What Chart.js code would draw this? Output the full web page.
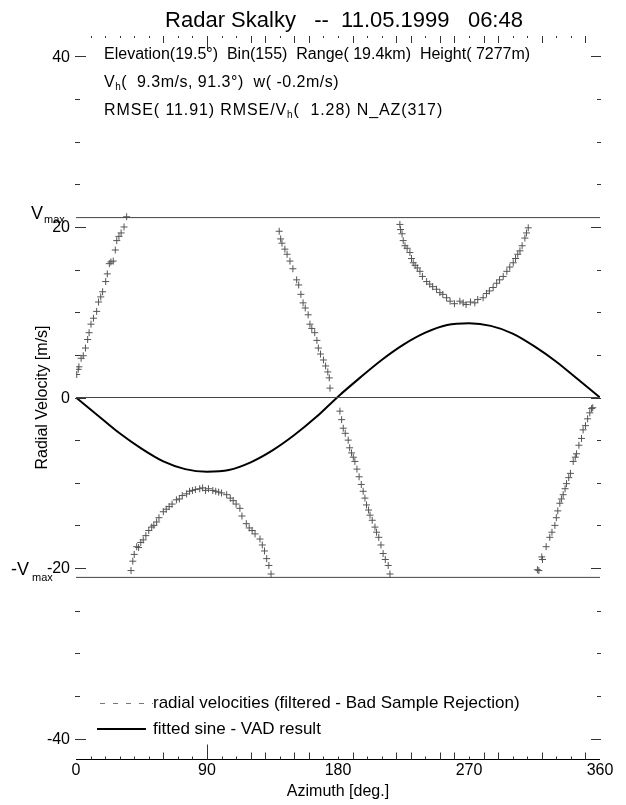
<!DOCTYPE html>
<html>
<head>
<meta charset="utf-8">
<script src="https://cdn.jsdelivr.net/npm/chart.js@4.4.1/dist/chart.umd.min.js"></script>
<style>
  html, body { margin: 0; padding: 0; background: #fff; }
  #wrap { width: 626px; height: 805px; }
</style>
</head>
<body>
<div id="wrap"><canvas id="vad" width="626" height="805"></canvas></div>
<script>
// radial velocities (azimuth deg / m/s), one line per folded branch
const radialAz = [
  0.5, 1.5, 2, 3.5, 5, 6.5, 8, 9, 10.3, 12, 14.2, 15.5, 17, 18.3, 20.4, 21.5, 22.9, 24, 25.6, 27, 28, 29.5, 31, 33, 34.8,
  37.8, 39, 40, 41.7, 43, 44.5, 46.2, 48, 50, 52, 53.5, 55.4, 57, 60, 62, 64, 66, 69, 71, 73, 76, 78, 80, 82, 85, 87, 89, 91, 94, 96, 98, 100, 103.5, 106, 108, 110, 112.6, 114, 117, 119, 121, 123, 126.4, 128, 129.5, 131, 132.5, 134,
  139.6, 140.6, 141.5, 143.5, 145, 147, 149, 151.6, 153, 154.5, 156, 157.5, 159.5, 160.7, 162, 164, 165.5, 166.5, 168, 170, 171.5, 173, 174, 174.5,
  181.3, 182.5, 183.6, 185, 187, 188, 189.3, 190.5, 191.6, 193, 194.5, 196, 197.3, 198.5, 199.6, 201, 202, 203.5, 205.4, 206.5, 208, 209.5, 211, 212.5, 214.5, 215.7,
  222.5, 223, 224, 224.8, 226, 227.5, 229.4, 230.5, 231.7, 233, 234.5, 236.3, 238, 240.9, 243, 245, 247.7, 250, 252, 254.6, 257, 260, 263.7, 266, 268, 271, 274, 276, 279.7, 282, 284, 286.6, 289, 291, 293.5, 296, 298, 300.4, 302, 303.5, 305, 306.5, 308.4, 309.5, 310.7,
  317, 318, 320, 320.5, 323, 325.5, 327, 329, 330, 331, 332.4, 333.5, 334.7, 336, 337, 338.5, 339.7, 341.6, 343, 343.9, 345.5, 347.3, 348.4, 350, 351.5, 353, 354.2, 355
];
const radialVel = [
  2.7, 3.3, 3.6, 4.6, 4.9, 5.8, 6.8, 7.6, 8.6, 9.3, 10.1, 11.2, 11.8, 12.4, 13.6, 14.5, 15.7, 15.9, 16.0, 17.3, 18.4, 18.9, 19.3, 20, 21.2,
  -20.3, -19.2, -18.4, -17.5, -17.6, -17, -16.7, -16.2, -15.6, -15.2, -15, -14.6, -14.1, -13.4, -13.1, -12.8, -12.5, -12, -11.9, -11.5, -11.3, -11, -10.9, -10.8, -10.7, -10.6, -10.9, -10.7, -10.9, -11, -11.1, -11.2, -11.4, -11.8, -12.1, -12.5, -13, -13.9, -14.8, -15.3, -15.6, -16, -16.6, -17.3, -18, -18.9, -19.7, -20.7,
  19.5, 18.6, 18.1, 17.4, 16.8, 16, 15.1, 13.8, 13.2, 12.1, 11.1, 10.5, 9.7, 8.6, 8.1, 7.6, 6.7, 5.8, 5.1, 4.4, 3.7, 3, 2.3, 1.1,
  -1.6, -2.6, -3.6, -4.2, -5, -5.9, -6.5, -7, -7.5, -8.4, -9.3, -10.2, -11, -11.8, -12.6, -13.2, -13.8, -14.4, -15.2, -15.8, -16.4, -17.3, -18.3, -19, -19.7, -20.7,
  20.3, 19.7, 19.2, 18.4, 17.8, 17.5, 17, 16.3, 15.8, 15.5, 15.2, 14.8, 14.2, 13.6, 13.3, 13, 12.7, 12.3, 12.1, 11.7, 11.3, 11, 11.3, 11.1, 10.9, 11.2, 11.1, 11.5, 11.7, 12.2, 12.5, 12.9, 13.4, 13.8, 14.2, 14.8, 15.3, 15.8, 16.3, 16.8, 17.2, 17.8, 18.7, 19.3, 19.9,
  -20.2, -20.3, -18.7, -19, -17.5, -16.4, -15.8, -15, -14.1, -13.3, -12.4, -11.9, -11.4, -10.7, -10.1, -9.4, -8.9, -7.5, -7, -6.6, -5.6, -4.8, -3.8, -3.3, -2.5, -1.8, -1.3, -1.2
];

// fitted sine (VAD result), read every 15 deg
const sineAz  = [0, 15, 30, 45, 60, 75, 90, 105, 120, 135, 150, 165, 180, 195, 210, 225, 240, 255, 270, 285, 300, 315, 330, 345, 360];
const sineVel = [0, -2.1, -4.2, -6.0, -7.5, -8.4, -8.7, -8.5, -7.6, -6.2, -4.4, -2.3, 0.1, 2.3, 4.4, 6.2, 7.6, 8.5, 8.7, 8.4, 7.5, 6.0, 4.2, 2.1, 0];

const vMax = 21.1;
const xTickLabels = [0, 90, 180, 270, 360];
const yTickLabels = [40, 20, 0, -20, -40];
const markedAz = [60, 120, 130, 150, 160, 190, 220, 230, 250, 260, 280, 290, 320, 350];

const titleText = 'Radar Skalky   --  11.05.1999   06:48';
const FONT = '"Liberation Sans", Arial, Helvetica, sans-serif';

const toXY = (xs, ys) => xs.map((x, i) => ({ x: x, y: ys[i] }));

// draws a row of text pieces, some of them as subscripts
function drawPieces(ctx, x, y, pieces, size, spacing) {
    ctx.letterSpacing = (spacing || 0) + 'px';
    pieces.forEach(p => {
        if (p.sub) {
            ctx.font = Math.round(size * 0.62) + 'px ' + FONT;
            ctx.fillText(p.t, x, y + size * 0.25);
        } else {
            ctx.font = size + 'px ' + FONT;
            ctx.fillText(p.t, x, y);
        }
        x += ctx.measureText(p.t).width;
    });
    ctx.letterSpacing = '0px';
}

const framePlugin = {
    id: 'frame',
    afterDraw(chart) {
        const ctx = chart.ctx;
        const xs = chart.scales.x, ys = chart.scales.y;
        const a = chart.chartArea;
        ctx.save();
        ctx.fillStyle = '#000';
        ctx.strokeStyle = '#000';
        ctx.lineWidth = 1;

        // title
        ctx.font = '22px ' + FONT;
        ctx.textAlign = 'center';
        ctx.textBaseline = 'middle';
        ctx.fillText(titleText, 344, 21);

        // bottom axis line + azimuth ticks top and bottom
        const yb = Math.round(a.bottom) + 0.5;
        ctx.beginPath();
        ctx.moveTo(a.left, yb);
        ctx.lineTo(a.right, yb);
        ctx.stroke();
        ctx.strokeStyle = '#333';
        for (let az = 10; az < 360; az += 10) {
            const px = Math.round(xs.getPixelForValue(az)) + 0.5;
            let len = 3;
            if (az === 90) len = 15;
            else if (markedAz.includes(az)) len = 7;
            ctx.beginPath();
            ctx.moveTo(px, yb);
            ctx.lineTo(px, yb - len);
            ctx.moveTo(px, a.top);
            ctx.lineTo(px, a.top + (len === 3 ? 2 : len));
            ctx.stroke();
        }

        // velocity ticks on both sides
        for (let v = -40; v <= 40; v += 5) {
            const py = Math.round(ys.getPixelForValue(v)) + 0.5;
            const len = v % 20 === 0 ? 11 : 5;
            ctx.beginPath();
            ctx.moveTo(a.left - 1, py);
            ctx.lineTo(a.left - 1 + len, py);
            ctx.moveTo(a.right + 1, py);
            ctx.lineTo(a.right + 1 - (len === 11 ? 10 : 4), py);
            ctx.stroke();
        }

        // tick labels
        ctx.fillStyle = '#000';
        ctx.font = '16px ' + FONT;
        ctx.textAlign = 'center';
        ctx.textBaseline = 'middle';
        xTickLabels.forEach(t => ctx.fillText(String(t), xs.getPixelForValue(t), a.bottom + 12));
        ctx.fillText('Azimuth [deg.]', (a.left + a.right) / 2, a.bottom + 33);

        ctx.textAlign = 'right';
        yTickLabels.forEach(t => ctx.fillText(String(t), 70, ys.getPixelForValue(t) + 1));

        // Vmax markers
        ctx.textAlign = 'left';
        ctx.textBaseline = 'alphabetic';
        const yVp = ys.getPixelForValue(vMax);
        ctx.font = '18px ' + FONT;
        ctx.fillText('V', 31, yVp + 1);
        ctx.font = '11px ' + FONT;
        ctx.fillText('max', 44, yVp + 5);
        const yVn = ys.getPixelForValue(-20);
        ctx.font = '18px ' + FONT;
        ctx.fillText('-V', 11, yVn + 7);
        ctx.font = '11px ' + FONT;
        ctx.fillText('max', 32, yVn + 13);

        // y title
        ctx.save();
        ctx.translate(43, (a.top + a.bottom) / 2);
        ctx.rotate(-Math.PI / 2);
        ctx.font = '16px ' + FONT;
        ctx.textAlign = 'center';
        ctx.textBaseline = 'middle';
        ctx.fillText('Radial Velocity [m/s]', 0, 0);
        ctx.restore();

        // annotation block
        ctx.textAlign = 'left';
        ctx.textBaseline = 'middle';
        drawPieces(ctx, 104, 55, [{ t: 'Elevation(19.5°)  Bin(155)  Range( 19.4km)  Height( 7277m)' }], 16, 0);
        drawPieces(ctx, 104, 83, [{ t: 'V' }, { t: 'h', sub: true }, { t: '(  9.3m/s, 91.3°)  w( -0.2m/s)' }], 16, 0.5);
        drawPieces(ctx, 104, 111, [{ t: 'RMSE( 11.91) RMSE/V' }, { t: 'h', sub: true }, { t: '(  1.28) N_AZ(317)' }], 16, 0.9);

        // legend
        ctx.strokeStyle = '#777';
        ctx.setLineDash([5, 8]);
        ctx.beginPath();
        ctx.moveTo(100, 703.5);
        ctx.lineTo(153, 703.5);
        ctx.stroke();
        ctx.setLineDash([]);
        ctx.strokeStyle = '#000';
        ctx.lineWidth = 2;
        ctx.beginPath();
        ctx.moveTo(97, 729);
        ctx.lineTo(146, 729);
        ctx.stroke();
        ctx.font = '17px ' + FONT;
        ctx.fillText('radial velocities (filtered - Bad Sample Rejection)', 153, 703);
        ctx.fillText('fitted sine - VAD result', 153, 729);

        ctx.restore();
    }
};

new Chart(document.getElementById('vad'), {
    type: 'scatter',
    data: {
        datasets: [
            {
                label: 'Vmax',
                data: toXY([0, 360], [vMax, vMax]),
                showLine: true, borderColor: '#444', borderWidth: 1, pointRadius: 0
            },
            {
                label: '-Vmax',
                data: toXY([0, 360], [-vMax, -vMax]),
                showLine: true, borderColor: '#444', borderWidth: 1, pointRadius: 0
            },
            {
                label: 'zero',
                data: toXY([0, 360], [0, 0]),
                showLine: true, borderColor: '#444', borderWidth: 1, pointRadius: 0
            },
            {
                label: 'radial velocities (filtered - Bad Sample Rejection)',
                data: toXY(radialAz, radialVel),
                pointStyle: 'cross',
                pointRadius: 3.5,
                borderColor: '#555',
                borderWidth: 1
            },
            {
                label: 'fitted sine - VAD result',
                data: toXY(sineAz, sineVel),
                showLine: true,
                cubicInterpolationMode: 'monotone',
                borderColor: '#000',
                borderWidth: 2,
                pointRadius: 0
            }
        ]
    },
    options: {
        responsive: false,
        animation: false,
        layout: { padding: { left: 76, right: 26, top: 36, bottom: 46 } },
        scales: {
            x: { type: 'linear', min: 0, max: 360, display: false },
            y: { type: 'linear', min: -42.4, max: 42.4, display: false }
        },
        plugins: {
            legend: { display: false },
            tooltip: { enabled: false }
        }
    },
    plugins: [framePlugin]
});
</script>
</body>
</html>
